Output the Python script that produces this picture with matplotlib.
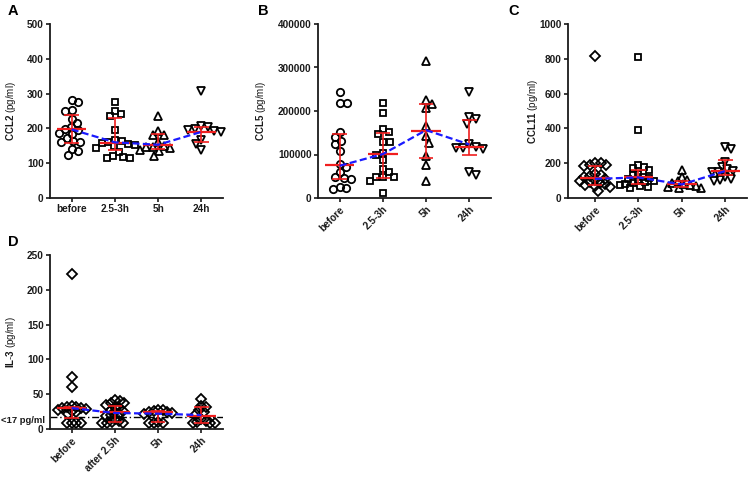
import numpy as np
import matplotlib.pyplot as plt
from matplotlib.transforms import blended_transform_factory

plt.rcParams['font.family'] = ['Liberation Sans', 'DejaVu Sans']
plt.rcParams['mathtext.fontset'] = 'custom'
plt.rcParams['mathtext.rm'] = 'Liberation Sans'
plt.rcParams['mathtext.bf'] = 'Liberation Sans:bold'

groups = ['before', '2.5-3h', '5h', '24h']
groups_d = ['before', 'after 2.5h', '5h', '24h']

# CCL2 (pg/ml)
ccl2 = [
    [281, 276, 252, 249, 228, 216, 205, 199, 196, 188, 185, 173, 165, 162, 160, 141, 134, 124],
    [276, 251, 240, 237, 194, 168, 163, 160, 157, 155, 152, 148, 145, 133, 120, 116, 114, 117],
    [235, 192, 181, 180, 162, 150, 147, 146, 143, 137, 135, 120],
    [308, 208, 203, 199, 196, 193, 190, 166, 155, 137],
]
ccl2_med = [198, 159, 153, 191]
ccl2_q1 = [158, 138, 141, 161]
ccl2_q3 = [238, 230, 184, 204]
ccl2_trend = [197, 160, 153, 190]

# CCL5 (pg/ml)
ccl5 = [
    [243000, 219000, 219000, 152000, 140000, 131000, 123000, 108000, 78000, 71000,
     60000, 48000, 47000, 43000, 26000, 22000, 21000],
    [219000, 196000, 159000, 152000, 148000, 129000, 128000, 104000, 100000, 87000,
     66000, 60000, 48000, 48000, 48000, 39000, 12000],
    [314000, 225000, 215000, 207000, 165000, 142000, 127000, 96000, 77000, 38000],
    [244000, 186000, 181000, 171000, 124000, 118000, 116000, 114000, 113000, 59000, 52000],
]
ccl5_med = [77000, 102000, 154000, 118000]
ccl5_q1 = [44000, 47000, 92000, 98000]
ccl5_q3 = [147000, 149000, 217000, 180000]
ccl5_trend = [74000, 101000, 156000, 123000]

# CCL11 (pg/ml)
ccl11 = [
    [818, 204, 200, 192, 188, 183, 140, 132, 125, 118, 112, 105, 95, 90, 85, 78, 72, 68, 62, 42],
    [808, 392, 188, 178, 172, 160, 140, 130, 122, 115, 108, 100, 95, 90, 85, 80, 75, 68, 62, 56],
    [160, 118, 105, 95, 88, 82, 76, 70, 64, 58, 55],
    [294, 284, 205, 178, 168, 158, 152, 148, 120, 112, 105, 100],
]
ccl11_med = [113, 120, 82, 155]
ccl11_q1 = [72, 78, 63, 132]
ccl11_q3 = [186, 163, 100, 218]
ccl11_trend = [110, 118, 78, 155]

# IL-3 (pg/ml)
il3 = [
    [222, 74, 61, 33, 32, 31, 30, 30, 29, 28, 26, 24, 21, 9, 8, 8, 8],
    [41, 40, 38, 37, 35, 32, 30, 28, 26, 24, 22, 20, 18, 15, 12, 10, 9, 8, 8],
    [28, 27, 26, 25, 24, 23, 22, 10, 9, 8, 8],
    [43, 33, 31, 27, 25, 22, 14, 12, 10, 9, 8, 8],
]
il3_med = [30, 24, 24, 18]
il3_q1 = [16, 10, 10, 9]
il3_q3 = [31, 33, 26, 31]
il3_trend = [30, 23, 22, 20]
il3_lod = 17

RED = '#f01e1e'
BLUE = '#1a1aff'
INK = '#1a1a1a'


def swarm(ax, vals, diam):
    # simple beeswarm in pixel space, returns x offsets in data units
    bb = ax.get_window_extent()
    x0, x1 = ax.get_xlim()
    y0, y1 = ax.get_ylim()
    sx = bb.width / (x1 - x0)
    sy = bb.height / (y1 - y0)
    py = np.asarray(vals, float) * sy
    placed = []
    offs = np.zeros(len(vals))
    side = 1
    for i in np.argsort(-py, kind='stable'):
        bad = []
        for (px, qy) in placed:
            dy = abs(py[i] - qy)
            if dy < diam:
                w = np.sqrt(diam ** 2 - dy ** 2)
                bad.append((px - w, px + w))
        cands = [0.0] + [e for b in bad for e in b]
        cands.sort(key=lambda c: (round(abs(c), 3), -side * c))
        for c in cands:
            if all(not (lo + 1e-6 < c < hi - 1e-6) for lo, hi in bad):
                offs[i] = c
                break
        if offs[i] != 0:
            side = -side
        placed.append((offs[i], py[i]))
    return offs / sx


def panel(rect, data, med, q1, q3, trend, labels, name, ymax, ystep,
          markers, rotate, xlim, labx, spread):
    ax = fig.add_axes(rect)
    ax.set_xlim(*xlim)
    ax.set_ylim(0, ymax)
    for k, vals in enumerate(data):
        mk, ms = markers[k]
        xo = swarm(ax, vals, spread)
        ax.plot(k + xo, vals, ls='none', marker=mk, ms=ms, mfc='none',
                mec='black', mew=1.3, zorder=2, clip_on=False)
    xs = np.arange(len(data))
    ax.vlines(xs, q1, q3, color=RED, lw=1.2, zorder=3)
    ax.hlines(q1, xs - 0.17, xs + 0.17, color=RED, lw=1.2, zorder=3)
    ax.hlines(q3, xs - 0.17, xs + 0.17, color=RED, lw=1.2, zorder=3)
    ax.hlines(med, xs - 0.34, xs + 0.34, color=RED, lw=1.6, zorder=3)
    ax.plot(xs, trend, color=BLUE, lw=1.6, ls=(0, (3.2, 1.5)), zorder=4)

    for s in ['top', 'right']:
        ax.spines[s].set_visible(False)
    for s in ['left', 'bottom']:
        ax.spines[s].set_linewidth(1.3)
        ax.spines[s].set_color(INK)
    ax.tick_params(direction='out', length=3, width=1.2, color=INK, pad=1.5)
    yt = np.arange(0, ymax + 1, ystep)
    ax.set_yticks(yt)
    ax.set_yticklabels([str(int(v)) for v in yt], fontsize=7.2,
                       fontweight='bold', color=INK)
    ax.set_xticks(xs)
    if rotate:
        ax.set_xticklabels(labels, fontsize=7.2, fontweight='bold', color=INK,
                           rotation=45, ha='right', rotation_mode='anchor')
    else:
        ax.set_xticklabels(labels, fontsize=7.2, fontweight='bold', color=INK)
    ax.set_ylabel(r'$\mathbf{%s}$ (pg/ml)' % name, fontsize=7, color=INK)
    ax.yaxis.set_label_coords(labx, 0.5)
    return ax


fig = plt.figure(figsize=(7.5, 4.78), dpi=100)

w = 173 / 750
h = 174 / 478
top_y = 1 - 198 / 478
bot_y = 1 - 429 / 478

axA = panel([50 / 750, top_y, w, h], ccl2, ccl2_med, ccl2_q1, ccl2_q3,
            ccl2_trend, groups, 'CCL2', 500, 100,
            [('o', 5.3), ('s', 5.0), ('^', 5.3), ('v', 5.3)], False, (-0.5, 3.5), -0.185, 7.0)
axB = panel([318 / 750, top_y, w, h], ccl5, ccl5_med, ccl5_q1, ccl5_q3,
            ccl5_trend, groups, 'CCL5', 400000, 100000,
            [('o', 5.3), ('s', 5.0), ('^', 5.3), ('v', 5.3)], True, (-0.5, 3.5), -0.29, 7.0)
axC = panel([568 / 750, top_y, 179 / 750, h], ccl11, ccl11_med, ccl11_q1, ccl11_q3,
            ccl11_trend, groups, 'CCL11', 1000, 200,
            [('D', 4.6), ('s', 5.0), ('^', 5.3), ('v', 5.3)], True, (-0.62, 3.5), -0.156, 5.8)
axD = panel([50 / 750, bot_y, w, h], il3, il3_med, il3_q1, il3_q3,
            il3_trend, groups_d, r'IL\text{-}3', 250, 50,
            [('D', 4.6), ('D', 4.6), ('D', 4.6), ('D', 4.6)], True, (-0.5, 3.5), -0.185, 4.8)

# panel letters
for letter, (lx, ly) in zip('ABCD', [(8, 15), (258, 15), (508, 15), (8, 246)]):
    fig.text(lx / 750, 1 - ly / 478, letter, fontsize=10.5, fontweight='bold')

axD.axhline(il3_lod, color='black', lw=1.0, ls=(0, (5, 2, 1, 2)), zorder=1)
tr = blended_transform_factory(axD.transAxes, axD.transData)
axD.text(-0.03, 12, '<17 pg/ml', transform=tr, ha='right', va='center',
         fontsize=6.8, fontweight='bold', color=INK)

fig.savefig('out.png', dpi=100)
